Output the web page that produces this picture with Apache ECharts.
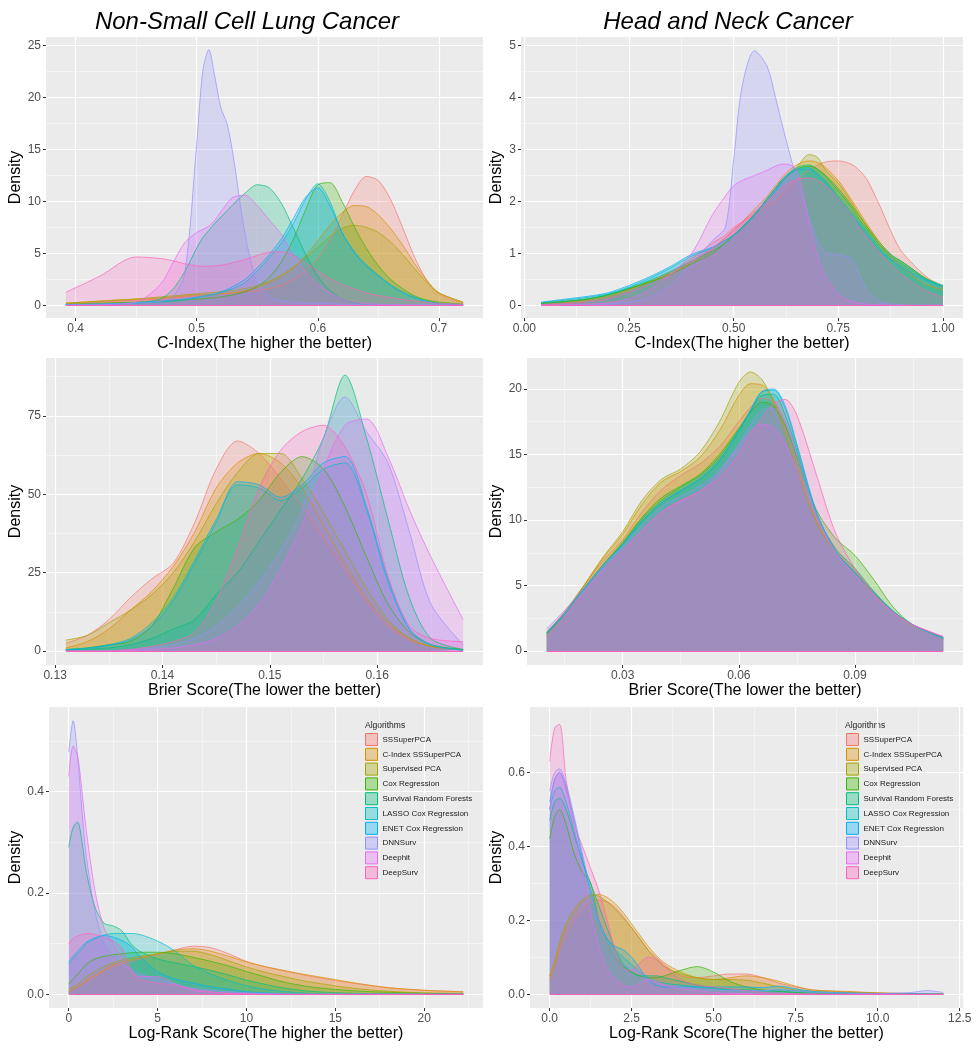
<!DOCTYPE html>
<html>
<head>
<meta charset="utf-8">
<title>Density of evaluation scores</title>
<script src="https://cdn.jsdelivr.net/npm/echarts@6/dist/echarts.min.js"></script>
<style>
  html, body { margin: 0; padding: 0; background: #fff; }
  #main { width: 980px; height: 1050px; }
</style>
</head>
<body>
<div id="main"></div>
<script>
// legend order = drawing order (ggplot default hue palette)
const algorithms = ['SSSuperPCA', 'C-Index SSSuperPCA', 'Supervised PCA', 'Cox Regression',
  'Survival Random Forests', 'LASSO Cox Regression', 'ENET Cox Regression', 'DNNSurv', 'Deephit', 'DeepSurv'];
const palette = ['#F8766D', '#D89000', '#A3A500', '#39B600', '#00BF7D',
  '#00BFC4', '#00B0F6', '#9590FF', '#E76BF3', '#FF62BC'];

// ---- Non-Small Cell Lung Cancer, C-Index ----
const lungCIndexX = [0.392, 0.42, 0.45, 0.47, 0.48, 0.49, 0.50, 0.505, 0.51, 0.515, 0.52, 0.525, 0.53, 0.54, 0.55,
  0.56, 0.57, 0.58, 0.59, 0.60, 0.61, 0.62, 0.63, 0.64, 0.65, 0.66, 0.67, 0.68, 0.69, 0.70, 0.72];
const lungCIndex = [
  [0.15,0.3,0.5,0.6,0.7,0.8,0.9,0.9,1.0,1.0,1.1,1.1,1.2,1.3,1.4,1.6,1.9,2.5,3.3,4.5,6.3,8.6,11.0,12.4,12.0,10.2,7.5,4.6,2.4,1.1,0.2],
  [0.2,0.4,0.6,0.7,0.8,0.9,1.0,1.0,1.05,1.05,1.1,1.15,1.2,1.4,1.7,2.2,2.8,3.6,4.8,6.2,7.7,8.9,9.6,9.5,8.7,7.4,5.8,4.0,2.4,1.2,0.3],
  [0.2,0.4,0.6,0.8,0.9,1.0,1.1,1.15,1.2,1.25,1.3,1.35,1.4,1.6,1.9,2.3,2.9,3.7,4.6,5.6,6.6,7.4,7.7,7.5,7.0,6.1,4.9,3.5,2.2,1.2,0.3],
  [0.1,0.2,0.3,0.4,0.4,0.5,0.6,0.6,0.7,0.7,0.8,0.9,1.0,1.3,1.8,2.7,4.2,6.4,9.2,11.6,11.8,10.0,7.6,5.5,3.8,2.5,1.6,0.9,0.5,0.3,0.1],
  [0.05,0.1,0.2,0.6,1.5,3.2,5.5,6.5,7.2,7.9,8.5,9.1,9.7,10.8,11.6,11.3,9.8,7.4,4.9,2.8,1.4,0.6,0.25,0.1,0.05,0.03,0.02,0.01,0,0,0],
  [0.05,0.1,0.2,0.3,0.4,0.5,0.7,0.8,0.9,1.0,1.2,1.4,1.6,2.2,3.3,4.6,6.0,7.9,10.2,11.7,10.0,7.0,5.2,3.9,2.9,2.0,1.3,0.8,0.4,0.2,0.05],
  [0.05,0.1,0.25,0.4,0.5,0.6,0.8,0.9,1.0,1.1,1.3,1.5,1.8,2.5,3.6,4.9,6.4,8.4,10.4,11.3,9.6,7.0,5.1,3.8,2.8,1.9,1.2,0.7,0.35,0.15,0.05],
  [0.05,0.1,0.2,0.4,0.8,3.0,15.5,22.5,24.6,22.0,19.0,17.5,14.5,6.8,2.2,0.8,0.4,0.3,0.2,0.2,0.15,0.1,0.1,0.1,0.08,0.06,0.05,0.05,0.05,0.05,0.05],
  [0,0.05,0.3,2.0,4.0,6.0,7.0,7.3,7.6,8.2,9.0,9.8,10.4,10.6,9.6,8.2,6.8,4.8,3.2,2.0,1.2,0.6,0.3,0.15,0.08,0.05,0.03,0.02,0.01,0,0],
  [1.25,2.8,4.65,4.5,4.3,4.0,3.8,3.75,3.75,3.8,3.85,3.95,4.1,4.4,4.8,5.1,5.15,4.8,4.1,3.3,2.6,2.0,1.6,1.2,0.95,0.75,0.55,0.4,0.28,0.18,0.08]
];
const lungCIndexTicksX = [0.4, 0.5, 0.6, 0.7];
const lungCIndexMinorX = [0.45, 0.55, 0.65];
const lungCIndexTicksY = [0, 5, 10, 15, 20, 25];
const lungCIndexMinorY = [2.5, 7.5, 12.5, 17.5, 22.5];

// ---- Head and Neck Cancer, C-Index ----
const headCIndexX = [0.04, 0.1, 0.15, 0.2, 0.25, 0.3, 0.35, 0.4, 0.45, 0.48, 0.5, 0.52, 0.55, 0.58, 0.6,
  0.62, 0.65, 0.68, 0.7, 0.72, 0.75, 0.78, 0.8, 0.82, 0.85, 0.88, 0.9, 0.93, 0.96, 1.0];
const headCIndex = [
  [0.02,0.05,0.08,0.15,0.28,0.45,0.65,0.9,1.2,1.35,1.5,1.6,1.75,1.9,2.0,2.15,2.4,2.6,2.7,2.76,2.78,2.72,2.6,2.4,1.9,1.35,1.05,0.78,0.55,0.35],
  [0.03,0.06,0.1,0.17,0.3,0.45,0.62,0.85,1.1,1.3,1.45,1.6,1.85,2.1,2.3,2.5,2.7,2.78,2.75,2.65,2.4,2.05,1.8,1.55,1.2,0.9,0.75,0.55,0.4,0.3],
  [0.05,0.08,0.12,0.2,0.32,0.45,0.6,0.82,1.05,1.2,1.35,1.5,1.75,2.05,2.25,2.42,2.65,2.9,2.85,2.6,2.35,2.0,1.75,1.5,1.15,0.92,0.82,0.65,0.5,0.35],
  [0.04,0.08,0.12,0.2,0.32,0.45,0.6,0.8,1.0,1.2,1.35,1.5,1.75,2.05,2.25,2.45,2.62,2.68,2.62,2.5,2.25,1.95,1.72,1.5,1.2,0.95,0.85,0.68,0.52,0.38],
  [0.03,0.07,0.12,0.2,0.33,0.48,0.65,0.85,1.05,1.2,1.35,1.5,1.75,2.05,2.25,2.45,2.65,2.7,2.62,2.48,2.2,1.9,1.65,1.45,1.15,0.95,0.85,0.68,0.5,0.35],
  [0.05,0.1,0.15,0.22,0.35,0.52,0.72,0.95,1.1,1.25,1.35,1.5,1.75,2.05,2.25,2.45,2.62,2.65,2.55,2.4,2.1,1.8,1.6,1.4,1.1,0.9,0.8,0.65,0.5,0.38],
  [0.06,0.12,0.17,0.24,0.38,0.55,0.75,0.98,1.12,1.25,1.35,1.48,1.72,2.0,2.2,2.42,2.6,2.62,2.52,2.36,2.05,1.75,1.55,1.35,1.05,0.85,0.75,0.6,0.48,0.36],
  [0,0,0.01,0.02,0.06,0.15,0.4,0.8,1.25,1.5,2.8,4.2,4.9,4.6,4.0,3.35,2.45,1.7,1.25,1.02,0.97,0.9,0.6,0.28,0.07,0.02,0.01,0,0,0],
  [0,0.01,0.02,0.05,0.12,0.3,0.6,1.0,1.75,2.1,2.3,2.4,2.5,2.6,2.68,2.72,2.62,1.6,0.95,0.55,0.22,0.08,0.04,0.02,0.01,0,0,0,0,0],
  [0.01,0.03,0.06,0.12,0.25,0.4,0.6,0.85,1.1,1.3,1.45,1.6,1.8,2.0,2.15,2.3,2.42,2.45,2.4,2.3,2.05,1.75,1.5,1.3,1.0,0.75,0.6,0.42,0.28,0.15]
];
const headCIndexTicksX = [0, 0.25, 0.5, 0.75, 1];
const headCIndexMinorX = [0.125, 0.375, 0.625, 0.875];
const headCIndexTicksY = [0, 1, 2, 3, 4, 5];
const headCIndexMinorY = [0.5, 1.5, 2.5, 3.5, 4.5];

// ---- Non-Small Cell Lung Cancer, Brier score ----
const lungBrierX = [0.131, 0.133, 0.135, 0.137, 0.139, 0.141, 0.143, 0.145, 0.147, 0.149, 0.151, 0.153, 0.155,
  0.157, 0.159, 0.161, 0.163, 0.165, 0.168];
const lungBrier = [
  [2.5,5,10,17,23,28,41,58,67,63,55,46,36,26,16,8,3.5,1.5,0.5],
  [1,3,7,13,19,27,38,52,60,63,60,52,40,28,17,9,4,1.5,0.5],
  [3.5,5,9,13,18,25,35,47,57,63,63,55,44,32,20,10,4,1.5,0.3],
  [0.5,1,2,3,8,20,33,38,42,48,57,62,58,46,30,15,6,2,0.5],
  [0.3,0.6,1,2,4,7,10,18,25,35,45,55,68,88,68,42,17,4,0.5],
  [0.5,1,2,4,9,17,29,42,53,52,48,52,58,60,45,22,7,2,0.3],
  [0.4,0.8,1.8,3.5,8,16,28,41,54,53,49,53,60,62,46,23,7,2,0.3],
  [0,0,0.1,0.5,1,2,4,8,14,22,32,45,68,81,70,60,38,15,2],
  [0,0,0,0.2,0.5,1,2,4,8,15,26,40,58,72,74,62,45,30,10],
  [0,0,0,0.5,1.5,3,6,16,33,52,64,70,72,65,50,24,8,4,3]
];
const lungBrierTicksX = [0.13, 0.14, 0.15, 0.16];
const lungBrierMinorX = [0.135, 0.145, 0.155, 0.165];
const lungBrierTicksY = [0, 25, 50, 75];
const lungBrierMinorY = [12.5, 37.5, 62.5, 87.5];

// ---- Head and Neck Cancer, Brier score ----
const headBrierX = [0.0104, 0.015, 0.02, 0.025, 0.03, 0.035, 0.04, 0.045, 0.05, 0.055, 0.06, 0.063, 0.066,
  0.069, 0.072, 0.075, 0.08, 0.085, 0.09, 0.095, 0.1, 0.105, 0.1128];
const headBrier = [
  [1.4,3.0,5.0,6.9,8.5,10.6,12.3,13.4,14.3,15.6,17.5,18.6,19.3,19.0,17.5,15.0,10.5,7.8,6.2,4.5,3.0,2.0,1.1],
  [1.3,2.9,5.0,7.1,8.9,11.2,12.9,13.7,14.8,16.8,19.5,20.4,20.3,19.2,17.0,14.3,10.0,7.6,6.0,4.3,2.9,1.9,1.0],
  [1.2,2.8,5.0,7.2,9.1,11.5,13.1,13.9,15.2,17.5,20.5,21.3,20.7,19.0,16.5,13.8,9.8,7.5,6.0,4.3,2.9,1.9,1.0],
  [1.4,2.9,4.8,6.6,8.3,10.2,11.7,12.6,13.5,15.0,17.0,18.2,19.0,18.7,17.2,14.8,10.8,8.6,7.3,5.4,3.3,2.0,0.9],
  [1.4,2.9,4.8,6.6,8.2,10.1,11.5,12.5,13.4,14.8,16.9,18.3,19.5,19.6,18.0,15.3,10.5,7.8,6.3,4.5,3.0,2.0,1.0],
  [1.3,2.8,4.7,6.5,8.1,9.9,11.3,12.3,13.2,14.6,16.8,18.4,19.8,19.9,18.5,15.6,10.6,7.6,6.0,4.4,3.0,2.0,1.0],
  [1.3,2.8,4.7,6.5,8.1,9.9,11.3,12.2,13.1,14.5,16.7,18.3,19.8,20.0,18.7,15.8,10.7,7.6,6.0,4.4,3.0,2.0,1.0],
  [1.7,3.1,4.8,6.5,8.0,9.6,11.0,11.8,12.6,13.8,15.8,17.2,18.4,18.5,17.5,15.0,10.5,7.5,5.8,4.2,2.9,1.9,0.9],
  [1.5,2.9,4.6,6.3,7.8,9.2,10.6,11.4,12.2,13.6,15.6,16.8,17.3,17.0,15.8,13.8,10.2,7.5,5.8,4.2,2.9,2.0,1.1],
  [1.1,2.6,4.4,6.1,7.6,9.2,10.6,11.5,12.2,13.2,15.0,16.5,17.8,18.9,19.2,18.0,13.5,9.0,6.3,4.3,2.9,2.0,1.1]
];
const headBrierTicksX = [0.03, 0.06, 0.09];
const headBrierMinorX = [0.015, 0.045, 0.075, 0.105];
const headBrierTicksY = [0, 5, 10, 15, 20];
const headBrierMinorY = [2.5, 7.5, 12.5, 17.5];

// ---- Non-Small Cell Lung Cancer, log-rank score ----
const lungLogRankX = [0, 0.25, 0.5, 0.75, 1, 1.5, 2, 2.5, 3, 3.5, 4, 5, 6, 7, 8, 9, 10, 11, 12, 13, 14, 16, 18, 20, 22.2];
const lungLogRank = [
  [0.005,0.01,0.015,0.02,0.025,0.035,0.045,0.055,0.06,0.065,0.07,0.078,0.088,0.095,0.092,0.08,0.065,0.055,0.047,0.04,0.033,0.022,0.013,0.008,0.005],
  [0.005,0.01,0.015,0.02,0.028,0.038,0.048,0.058,0.064,0.068,0.072,0.08,0.087,0.09,0.085,0.075,0.064,0.055,0.048,0.041,0.035,0.023,0.013,0.008,0.005],
  [0.01,0.015,0.02,0.028,0.035,0.045,0.055,0.062,0.068,0.072,0.075,0.08,0.085,0.085,0.078,0.066,0.054,0.044,0.036,0.028,0.022,0.012,0.006,0.003,0.002],
  [0.02,0.03,0.04,0.05,0.06,0.07,0.075,0.078,0.08,0.082,0.083,0.083,0.08,0.073,0.065,0.056,0.045,0.035,0.025,0.018,0.013,0.007,0.004,0.002,0.001],
  [0.29,0.33,0.34,0.3,0.24,0.17,0.14,0.135,0.125,0.1,0.085,0.07,0.062,0.055,0.047,0.038,0.028,0.02,0.013,0.008,0.005,0.002,0.001,0,0],
  [0.06,0.07,0.08,0.09,0.1,0.11,0.117,0.12,0.12,0.12,0.118,0.105,0.085,0.057,0.04,0.027,0.017,0.01,0.006,0.003,0.001,0,0,0,0],
  [0.065,0.075,0.085,0.095,0.103,0.112,0.116,0.113,0.106,0.095,0.075,0.045,0.03,0.022,0.015,0.01,0.005,0.003,0.001,0,0,0,0,0,0],
  [0.478,0.54,0.47,0.36,0.27,0.16,0.1,0.075,0.06,0.05,0.04,0.03,0.02,0.012,0.008,0.005,0.003,0.002,0.001,0,0,0,0,0,0],
  [0.43,0.49,0.47,0.4,0.32,0.2,0.13,0.1,0.07,0.045,0.035,0.035,0.02,0.008,0.004,0.002,0.001,0,0,0,0,0,0,0,0],
  [0.1,0.11,0.115,0.118,0.12,0.118,0.112,0.105,0.09,0.05,0.03,0.022,0.018,0.01,0.005,0.002,0.001,0,0,0,0,0,0,0,0]
];
const lungLogRankTicksX = [0, 5, 10, 15, 20];
const lungLogRankMinorX = [2.5, 7.5, 12.5, 17.5, 22.5];
const lungLogRankTicksY = [0, 0.2, 0.4];
const lungLogRankMinorY = [0.1, 0.3, 0.5];

// ---- Head and Neck Cancer, log-rank score ----
const headLogRankX = [0, 0.15, 0.3, 0.5, 0.75, 1, 1.25, 1.5, 1.75, 2, 2.25, 2.5, 2.75, 3, 3.25, 3.5, 4, 4.5,
  5, 5.5, 6, 6.5, 7, 7.5, 8, 9, 10, 11, 11.5, 12];
const headLogRank = [
  [0.05,0.08,0.12,0.16,0.2,0.23,0.25,0.255,0.25,0.235,0.21,0.18,0.15,0.12,0.1,0.08,0.05,0.045,0.05,0.055,0.055,0.045,0.03,0.02,0.012,0.007,0.004,0.002,0.001,0.001],
  [0.04,0.08,0.13,0.18,0.22,0.25,0.265,0.27,0.262,0.245,0.22,0.19,0.16,0.13,0.105,0.085,0.06,0.045,0.04,0.045,0.05,0.045,0.035,0.022,0.012,0.008,0.004,0.002,0.001,0.001],
  [0.05,0.09,0.14,0.19,0.23,0.255,0.27,0.265,0.25,0.23,0.205,0.18,0.15,0.12,0.095,0.075,0.055,0.045,0.04,0.04,0.038,0.03,0.02,0.012,0.008,0.005,0.003,0.001,0.001,0.001],
  [0.42,0.48,0.5,0.46,0.38,0.33,0.3,0.2,0.14,0.1,0.075,0.06,0.05,0.045,0.045,0.05,0.065,0.075,0.06,0.035,0.02,0.012,0.008,0.005,0.003,0.002,0.001,0,0,0],
  [0.47,0.52,0.53,0.5,0.43,0.36,0.3,0.24,0.18,0.12,0.08,0.06,0.05,0.05,0.05,0.045,0.035,0.025,0.018,0.014,0.012,0.01,0.008,0.005,0.003,0.002,0.001,0,0,0],
  [0.5,0.55,0.56,0.52,0.44,0.36,0.28,0.2,0.15,0.12,0.1,0.08,0.06,0.045,0.035,0.03,0.025,0.02,0.015,0.012,0.01,0.01,0.012,0.01,0.006,0.003,0.002,0.001,0.001,0],
  [0.52,0.58,0.6,0.56,0.47,0.37,0.28,0.2,0.15,0.13,0.12,0.1,0.07,0.04,0.025,0.02,0.02,0.02,0.02,0.02,0.02,0.018,0.022,0.015,0.008,0.004,0.002,0.001,0.001,0],
  [0.55,0.6,0.61,0.57,0.48,0.38,0.28,0.2,0.14,0.1,0.08,0.07,0.06,0.04,0.03,0.025,0.02,0.015,0.012,0.01,0.01,0.01,0.012,0.01,0.006,0.003,0.002,0.005,0.01,0.005],
  [0.5,0.58,0.6,0.55,0.45,0.34,0.22,0.13,0.07,0.04,0.025,0.02,0.03,0.04,0.035,0.025,0.015,0.01,0.005,0.003,0.002,0.001,0,0,0,0,0,0,0,0],
  [0.63,0.72,0.73,0.58,0.46,0.4,0.34,0.28,0.2,0.12,0.07,0.065,0.085,0.1,0.095,0.075,0.04,0.025,0.02,0.015,0.01,0.005,0.003,0.002,0.001,0,0,0,0,0]
];
const headLogRankTicksX = [0, 2.5, 5, 7.5, 10, 12.5];
const headLogRankMinorX = [1.25, 3.75, 6.25, 8.75, 11.25];
const headLogRankTicksY = [0, 0.2, 0.4, 0.6];
const headLogRankMinorY = [0.1, 0.3, 0.5, 0.7];

const FONT = '"Liberation Sans", Arial, sans-serif';
const FILL_ALPHA = 0.35;

function fade(hex, a) {
  const n = parseInt(hex.slice(1), 16);
  return 'rgba(' + (n >> 16) + ',' + ((n >> 8) & 255) + ',' + (n & 255) + ',' + a + ')';
}

// layout of the six panels
const panels = [
  { x: lungCIndexX, ys: lungCIndex, grid: { left: 46, top: 37, width: 437, height: 281 },
    xr: [0.3756, 0.7364], yr: [-1.23, 25.83], tx: lungCIndexTicksX, mx: lungCIndexMinorX,
    ty: lungCIndexTicksY, my: lungCIndexMinorY, xd: 1, yd: 0, xName: 'C-Index(The higher the better)', yGap: 20 },
  { x: headCIndexX, ys: headCIndex, grid: { left: 521, top: 37, width: 442, height: 281 },
    xr: [-0.008, 1.048], yr: [-0.246, 5.166], tx: headCIndexTicksX, mx: headCIndexMinorX,
    ty: headCIndexTicksY, my: headCIndexMinorY, xd: 2, yd: 0, xName: 'C-Index(The higher the better)', yGap: 16 },
  { x: lungBrierX, ys: lungBrier, grid: { left: 46, top: 358, width: 437, height: 307 },
    xr: [0.12915, 0.16985], yr: [-4.45, 93.45], tx: lungBrierTicksX, mx: lungBrierMinorX,
    ty: lungBrierTicksY, my: lungBrierMinorY, xd: 2, yd: 0, xName: 'Brier Score(The lower the better)', yGap: 20 },
  { x: headBrierX, ys: headBrier, grid: { left: 527, top: 358, width: 436, height: 307 },
    xr: [0.0053, 0.1179], yr: [-1.065, 22.365], tx: headBrierTicksX, mx: headBrierMinorX,
    ty: headBrierTicksY, my: headBrierMinorY, xd: 2, yd: 0, xName: 'Brier Score(The lower the better)', yGap: 21 },
  { x: lungLogRankX, ys: lungLogRank, grid: { left: 49, top: 707, width: 434, height: 301 },
    xr: [-1.11, 23.31], yr: [-0.027, 0.567], tx: lungLogRankTicksX, mx: lungLogRankMinorX,
    ty: lungLogRankTicksY, my: lungLogRankMinorY, xd: 0, yd: 1, xName: 'Log-Rank Score(The higher the better)', yGap: 23 },
  { x: headLogRankX, ys: headLogRank, grid: { left: 530, top: 707, width: 433, height: 301 },
    xr: [-0.6, 12.6], yr: [-0.037, 0.777], tx: headLogRankTicksX, mx: headLogRankMinorX,
    ty: headLogRankTicksY, my: headLogRankMinorY, xd: 1, yd: 1, xName: 'Log-Rank Score(The higher the better)', yGap: 24 }
];

const grids = [], xAxes = [], yAxes = [], series = [];

panels.forEach((p, i) => {
  grids.push(Object.assign({ show: true, backgroundColor: '#EBEBEB', borderWidth: 0 }, p.grid));

  const major = (ticks, digits) => ({
    axisLine: { show: false, onZero: false },
    axisTick: { show: true, length: 3, lineStyle: { color: '#333333', width: 1 }, customValues: ticks },
    axisLabel: { customValues: ticks, formatter: v => v.toFixed(digits), color: '#4D4D4D',
      fontSize: 12, fontFamily: FONT, margin: 5 },
    splitLine: { show: true, lineStyle: { color: '#FFFFFF', width: 1.2 } }
  });
  const minor = ticks => ({
    axisLine: { show: false, onZero: false },
    axisTick: { show: false, customValues: ticks },
    axisLabel: { show: false },
    splitLine: { show: true, lineStyle: { color: 'rgba(255,255,255,0.75)', width: 0.6 } }
  });

  xAxes.push(Object.assign({ type: 'value', gridIndex: i, min: p.xr[0], max: p.xr[1], position: 'bottom',
    name: p.xName, nameLocation: 'middle', nameGap: 15,
    nameTextStyle: { fontSize: 16, color: '#000', fontFamily: FONT } }, major(p.tx, p.xd)));
  xAxes.push(Object.assign({ type: 'value', gridIndex: i, min: p.xr[0], max: p.xr[1], position: 'top' }, minor(p.mx)));

  yAxes.push(Object.assign({ type: 'value', gridIndex: i, min: p.yr[0], max: p.yr[1], position: 'left',
    name: 'Density', nameLocation: 'middle', nameGap: p.yGap, nameRotate: 90,
    nameTextStyle: { fontSize: 16, color: '#000', fontFamily: FONT } }, major(p.ty, p.yd)));
  yAxes.push(Object.assign({ type: 'value', gridIndex: i, min: p.yr[0], max: p.yr[1], position: 'right' }, minor(p.my)));

  p.ys.forEach((ys, k) => {
    const s = {
      name: algorithms[k], type: 'line', xAxisIndex: 2 * i, yAxisIndex: 2 * i,
      data: p.x.map((x, j) => [x, ys[j]]),
      smooth: 0.3, symbol: 'none', showSymbol: false, silent: true,
      lineStyle: { color: palette[k], width: 0.7 },
      itemStyle: { color: palette[k] },
      areaStyle: { color: fade(palette[k], FILL_ALPHA) }
    };
    if (k === p.ys.length - 1) {
      // ggplot closes the last drawn polygon along the baseline
      s.markLine = { silent: true, symbol: 'none', animation: false, label: { show: false },
        lineStyle: { color: palette[k], width: 1, type: 'solid' },
        data: [[{ coord: [p.x[0], 0] }, { coord: [p.x[p.x.length - 1], 0] }]] };
    }
    series.push(s);
  });
});

const legendData = algorithms.map((n, i) => ({
  name: n, itemStyle: { color: fade(palette[i], FILL_ALPHA), borderColor: palette[i], borderWidth: 1 }
}));
const legends = [365, 846].map(left => ({
  left: left, top: 733, orient: 'vertical', icon: 'rect', padding: 0,
  itemWidth: 12, itemHeight: 12, itemGap: 1.8, selectedMode: false,
  textStyle: { fontSize: 8, color: '#1A1A1A', fontFamily: FONT },
  data: legendData
}));

const texts = [
  { x: 247, y: 22, text: 'Non-Small Cell Lung Cancer', size: 24, italic: true, align: 'center' },
  { x: 728, y: 22, text: 'Head and Neck Cancer', size: 24, italic: true, align: 'center' },
  { x: 365, y: 726, text: 'Algorithms', size: 8.5, italic: false, align: 'left' },
  { x: 845, y: 726, text: 'Algorithms', size: 8.5, italic: false, align: 'left' }
];

const chart = echarts.init(document.getElementById('main'), null, { renderer: 'canvas' });
chart.setOption({
  animation: false,
  backgroundColor: '#FFFFFF',
  grid: grids,
  xAxis: xAxes,
  yAxis: yAxes,
  legend: legends,
  graphic: texts.map(t => ({
    type: 'text', x: t.x, y: t.y, silent: true,
    style: { text: t.text, fill: t.size > 10 ? '#000' : '#1A1A1A', fontSize: t.size, fontFamily: FONT,
      fontStyle: t.italic ? 'italic' : 'normal', align: t.align, verticalAlign: 'middle' }
  })),
  series: series
});
</script>
</body>
</html>
